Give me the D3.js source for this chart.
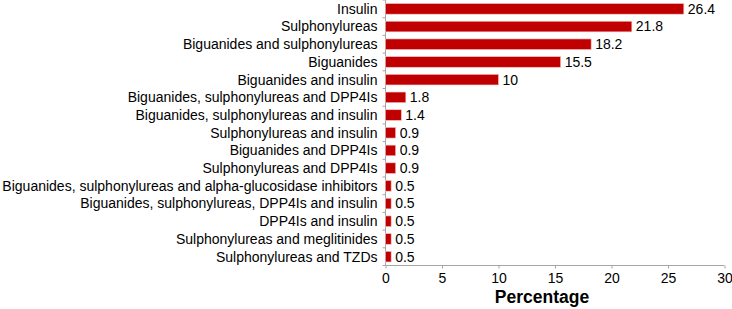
<!DOCTYPE html>
<html>
<head>
<meta charset="utf-8">
<script src="https://cdn.jsdelivr.net/npm/d3@7"></script>
<style>
  body { margin: 0; background: #fff; }
  svg { display: block; font-family: Arial, "Liberation Sans", sans-serif; }
  .axis path, .axis line { stroke: #a6a6a6; }
  .axis text { fill: #000; font-size: 14px; }
</style>
</head>
<body>
<svg id="chart" width="732" height="309"></svg>
<script>
const categories = [
    'Insulin',
    'Sulphonylureas',
    'Biguanides and sulphonylureas',
    'Biguanides',
    'Biguanides and insulin',
    'Biguanides, sulphonylureas and DPP4Is',
    'Biguanides, sulphonylureas and insulin',
    'Sulphonylureas and insulin',
    'Biguanides and DPP4Is',
    'Sulphonylureas and DPP4Is',
    'Biguanides, sulphonylureas and alpha-glucosidase inhibitors',
    'Biguanides, sulphonylureas, DPP4Is and insulin',
    'DPP4Is and insulin',
    'Sulphonylureas and meglitinides',
    'Sulphonylureas and TZDs'
];
const percentages = [26.4, 21.8, 18.2, 15.5, 10, 1.8, 1.4, 0.9, 0.9, 0.9, 0.5, 0.5, 0.5, 0.5, 0.5];
const xTicks = [0, 5, 10, 15, 20, 25, 30];

const plotLeft = 385.5, plotRight = 724.5, plotTop = 0, plotBottom = 265.5;
const svg = d3.select('#chart');

let xScale = d3.scaleLinear()
                .domain([0, 30])
                .range([plotLeft, plotRight]);

let yScale = d3.scaleBand()
                .domain(categories)
                .range([plotTop, plotBottom])
                .paddingInner(0.4)
                .paddingOuter(0.2);

// x-Axis
svg.append('g')
    .classed('axis axis--x', true)
    .attr('transform', `translate(0, ${plotBottom})`)
    .call(d3.axisBottom(xScale).tickValues(xTicks).tickSize(3).tickSizeOuter(0).tickPadding(5))
    .call(g => g.select('.domain').attr('d', `M${plotLeft},0H${plotRight}`));

svg.append('text')
    .attr('x', 542)
    .attr('y', 303)
    .attr('text-anchor', 'middle')
    .style('font-size', '17.5px')
    .style('font-weight', 'bold')
    .text('Percentage');

// y-Axis: line with ticks at category boundaries
const yAxis = svg.append('g').classed('axis axis--y', true);
yAxis.append('line')
    .attr('x1', plotLeft).attr('x2', plotLeft)
    .attr('y1', plotTop).attr('y2', plotBottom);
yAxis.selectAll('line.tick')
    .data(d3.range(categories.length + 1))
    .enter()
    .append('line')
        .classed('tick', true)
        .attr('x1', plotLeft - 3).attr('x2', plotLeft)
        .attr('y1', i => plotTop + i * (plotBottom - plotTop) / categories.length)
        .attr('y2', i => plotTop + i * (plotBottom - plotTop) / categories.length);

svg.selectAll('.cat-label')
    .data(categories)
    .enter()
    .append('text')
        .classed('cat-label', true)
        .attr('x', plotLeft - 8)
        .attr('y', d => yScale(d) + yScale.bandwidth() / 2)
        .attr('dy', '0.35em')
        .attr('text-anchor', 'end')
        .style('font-size', '14px')
        .text(d => d);

// bars
svg.selectAll('.bar')
    .data(categories)
    .enter()
    .append('rect')
        .classed('bar', true)
        .attr('x', xScale(0))
        .attr('y', d => yScale(d))
        .attr('width', (d, i) => xScale(percentages[i]) - xScale(0))
        .attr('height', yScale.bandwidth())
        .attr('fill', '#c00000')
        .attr('stroke', '#f2c4c4')
        .attr('stroke-width', 0.6);

svg.selectAll('.value-label')
    .data(categories)
    .enter()
    .append('text')
        .classed('value-label', true)
        .attr('x', (d, i) => xScale(percentages[i]) + 4)
        .attr('y', d => yScale(d) + yScale.bandwidth() / 2)
        .attr('dy', '0.35em')
        .style('font-size', '14px')
        .text((d, i) => percentages[i]);
</script>
</body>
</html>
